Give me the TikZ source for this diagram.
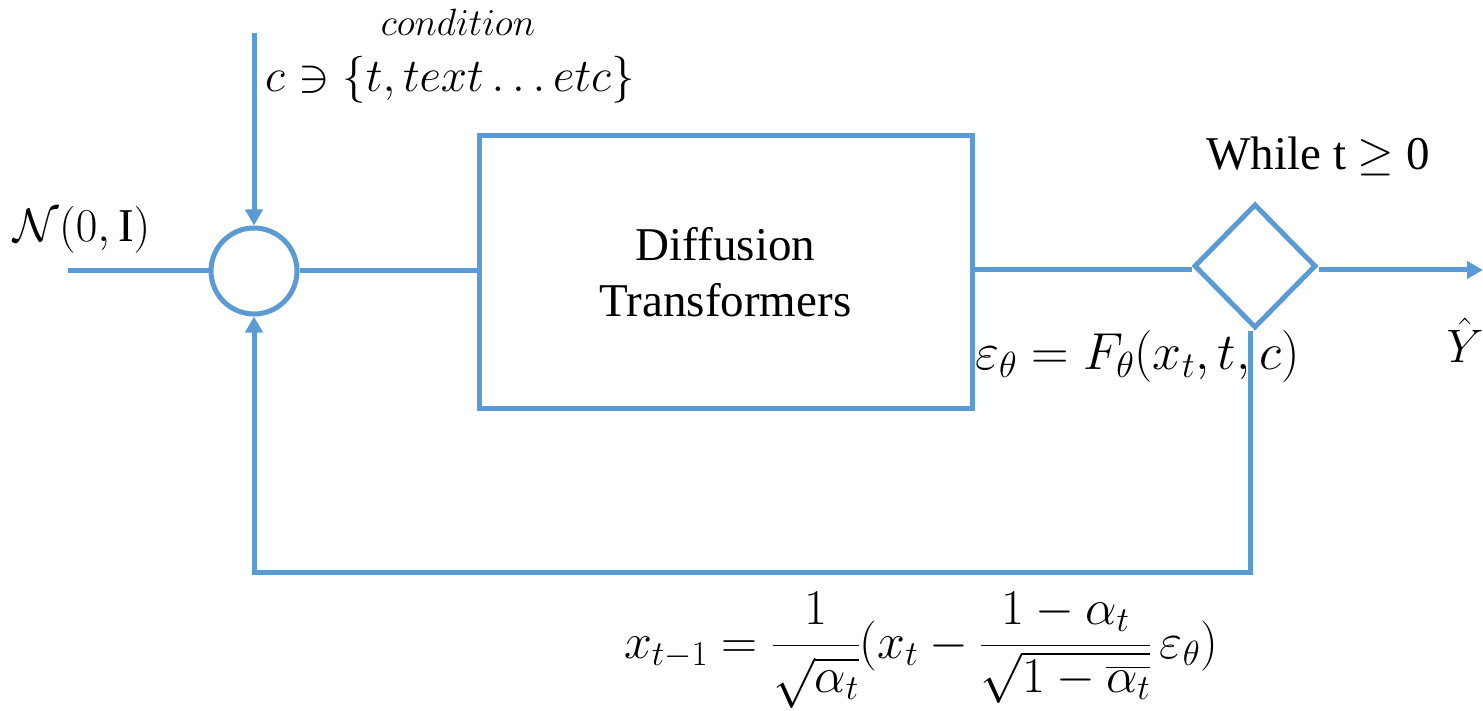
\RequirePackage{fix-cm}
\documentclass[tikz,border=0pt]{standalone}
\usepackage{amsmath}
\usepackage{fontspec}
\setmainfont{Liberation Serif}
\usetikzlibrary{arrows.meta,shapes.geometric}
\definecolor{lblue}{HTML}{5B9BD5}
\tikzset{
  conn/.style={draw=lblue,line width=5pt},
  arr/.style={conn,-{Triangle[length=16pt,width=17pt]}},
  blk/.style={draw=lblue,line width=5pt,fill=white,inner sep=0pt},
  lbl/.style={inner sep=0pt,font=\fontsize{47}{56}\selectfont},
  small/.style={inner sep=0pt,font=\fontsize{38}{44}\selectfont},
}
\begin{document}
\begin{tikzpicture}[x=1pt,y=-1pt]
\path[use as bounding box] (0,0) rectangle (1483,711);
% blocks
\node[blk,circle,minimum size=86pt] (sum) at (254,271) {};
\node[blk,rectangle,minimum width=493pt,minimum height=272pt,align=center,
      font=\fontsize{47}{56}\selectfont] (dit) at (725.5,272) {Diffusion\\Transformers};
\node[blk,diamond,minimum width=122pt,minimum height=124pt] (dec) at (1255,266) {};
% free ends
\coordinate (in) at (68,271);
\coordinate (cin) at (254,33);
\coordinate (out) at (1483,270);
\coordinate (fbr) at (1250,572);
\coordinate (fb) at (254,572);
% connectors
\draw[conn] (in) -- (sum.west);
\draw[arr] (cin) -- (sum.north);
\draw[conn] (sum.east) -- (dit.west |- sum.east);
\draw[conn] (dit.east |- 0,270) -- (dec.west |- 0,270);
\draw[arr] (dec.east |- 0,270) -- (out);
\draw[arr,line join=miter] (fbr |- dec.south) -- (fbr) -- (fb) -- (sum.south);
% labels
\node[small] (cond) at (458,22) {$condition$};
\node[lbl] (cset) at (450,80) {$c \ni \{t, text \ldots etc\}$};
\node[lbl] (noise) at (82,230) {$\mathcal{N}(0,\mathrm{I})$};
\node[lbl] (while) at (1318,156) {While t $\geq$ 0};
\node[lbl,anchor=west,font=\fontsize{52}{60}\selectfont] (eps) at (975,357) {$\varepsilon_\theta = F_\theta(x_t, t, c)$};
\node[lbl] (yhat) at (1465,340) {$\hat{Y}$};
\node[lbl,anchor=base,font=\fontsize{50}{60}\selectfont] (upd) at (921,658) {$\displaystyle x_{t-1} = \frac{1}{\sqrt{\alpha_t}}(x_t - \frac{1-\alpha_t}{\sqrt{1-\overline{\alpha_t}}}\,\varepsilon_\theta)$};
\end{tikzpicture}
\end{document}
